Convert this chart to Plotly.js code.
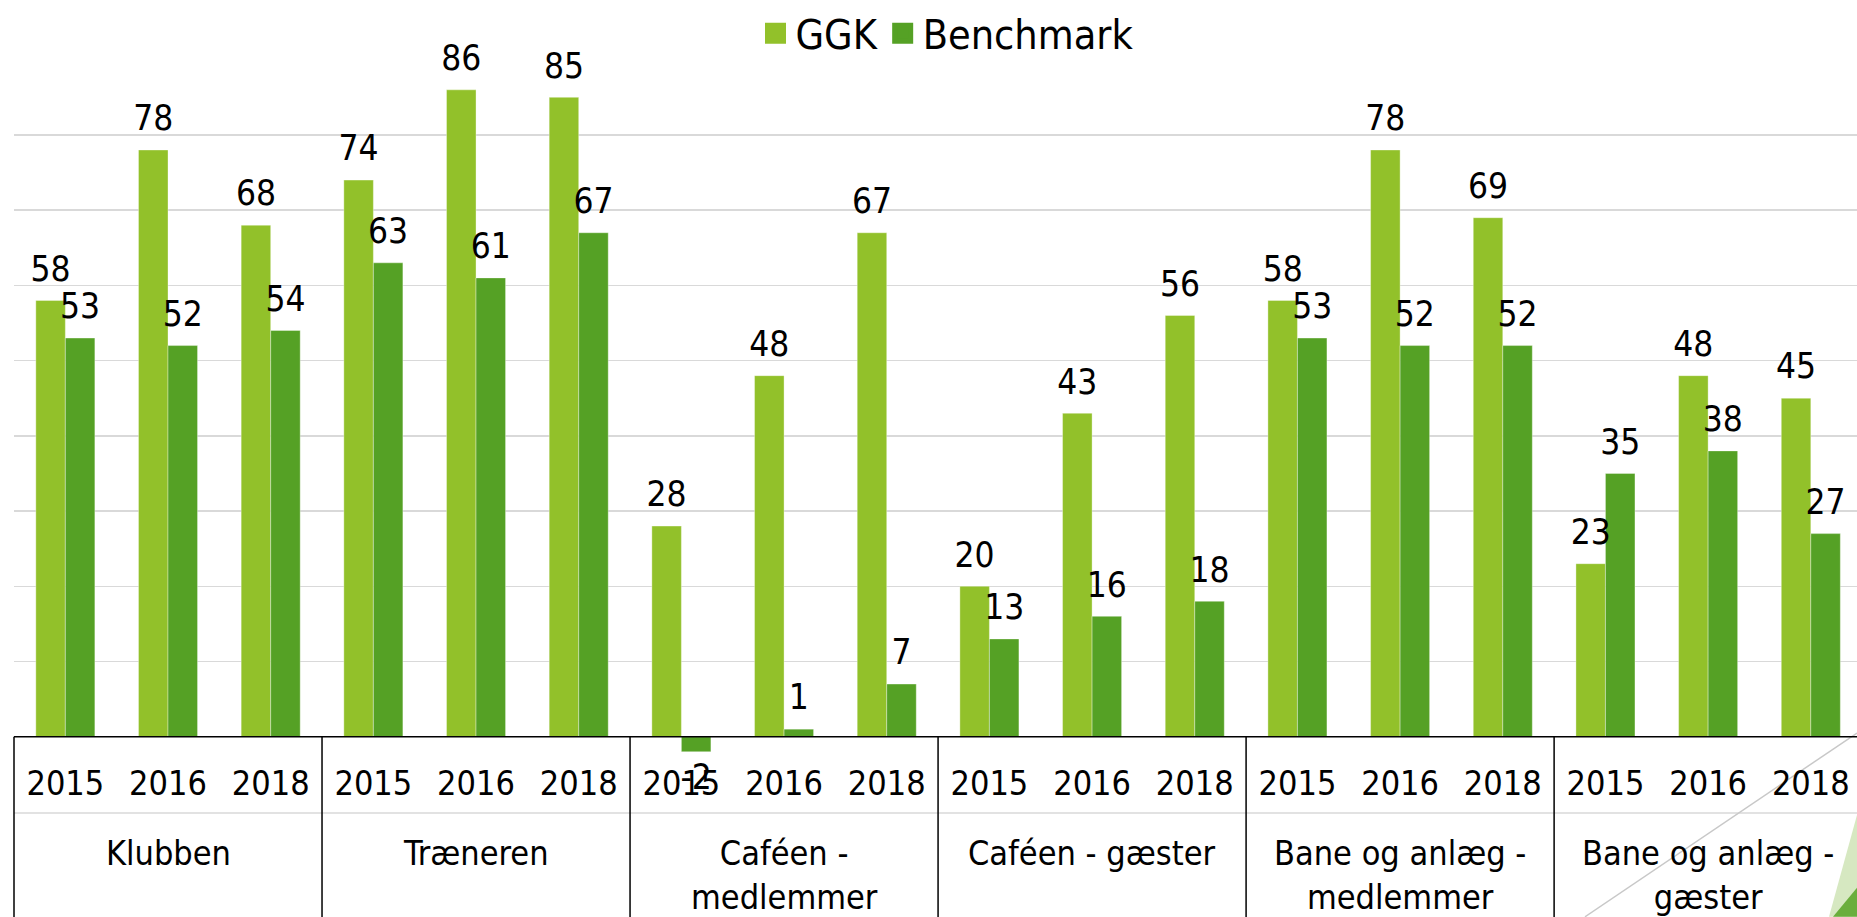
<!DOCTYPE html>
<html><head><meta charset="utf-8">
<script src="https://cdn.plot.ly/plotly-3.0.1.min.js"></script>
<style>html,body{margin:0;padding:0;background:#fff;overflow:hidden}#chart{width:1857px;height:917px}</style>
</head><body><div id="chart"></div>
<script>
// ---- data ----
const categories = ['Klubben', 'Træneren', 'Caféen -<br>medlemmer', 'Caféen - gæster', 'Bane og anlæg -<br>medlemmer', 'Bane og anlæg -<br>gæster'];
const years = ['2015', '2016', '2018'];
const ggk = [58, 78, 68, 74, 86, 85, 28, 48, 67, 20, 43, 56, 58, 78, 69, 23, 48, 45];
const benchmark = [53, 52, 54, 63, 61, 67, -2, 1, 7, 13, 16, 18, 53, 52, 52, 35, 38, 27];
const seriesNames = ['GGK', 'Benchmark'];
const seriesColors = ['#92c12a', '#55a125'];

// ---- build ----
const FONT = 'DejaVu Sans Condensed, DejaVu Sans, sans-serif';
const xIdx = [], xYear = [];
categories.forEach((c, ci) => years.forEach((y, yi) => { xIdx.push(ci * years.length + yi); xYear.push(y); }));
const series = [ggk, benchmark];

const W = 1857, H = 917, L = 14, T = 58, B = 163;
const plotH = H - T - B, plotW = W - L;
const XR = [-0.5, 17.45];
const YR = [-2.3, 90.1];
const px = v => (v - L) / plotW;          // pixel -> paper x
const py = v => (H - B - v) / plotH;      // pixel -> paper y
const zeroPaper = (0 - YR[0]) / (YR[1] - YR[0]);
const xPaper = v => (v - XR[0]) / (XR[1] - XR[0]);

const traces = [];
series.forEach((vals, i) => {
  traces.push({
    type: 'bar', name: seriesNames[i], x: xIdx, y: vals,
    marker: {color: seriesColors[i], line: {color: 'rgba(255,255,255,0.35)', width: 1}},
    cliponaxis: false, showlegend: false, hoverinfo: 'y+name'
  });
});
series.forEach((vals, i) => {
  traces.push({
    type: 'scatter', mode: 'markers+text', name: seriesNames[i] + ' labels', x: xIdx, y: vals,
    text: vals.map(String),
    textposition: vals.map(v => v < 0 ? 'bottom center' : 'top center'),
    textfont: {family: FONT, size: 35, color: '#000'},
    marker: {size: 16, opacity: 0, color: seriesColors[i]},
    showlegend: false, cliponaxis: false, hoverinfo: 'skip'
  });
});
// legend entries (larger square swatches)
series.forEach((vals, i) => {
  traces.push({
    type: 'scatter', mode: 'markers', name: seriesNames[i], x: [null], y: [null],
    xaxis: 'x2', yaxis: 'y2',
    marker: {symbol: 'square', size: 16, color: seriesColors[i], line: {color: seriesColors[i], width: 5}},
    showlegend: true, hoverinfo: 'skip'
  });
});

const shapes = [
  // row separator between years and categories
  {type: 'line', xref: 'paper', yref: 'paper', x0: 0, x1: px(W), y0: py(813), y1: py(813),
   line: {color: '#d9d9d9', width: 1.5}, layer: 'below'},
  // decorative slide elements
  {type: 'line', xref: 'paper', yref: 'paper', x0: px(1585), y0: py(917), x1: px(1857), y1: py(733),
   line: {color: '#c8c8c8', width: 1.5}, layer: 'below'},
  {type: 'path', xref: 'paper', yref: 'paper',
   path: `M ${px(1829)} ${py(917)} L ${px(1857)} ${py(815)} L ${px(1857)} ${py(917)} Z`,
   fillcolor: '#d6e8c1', line: {width: 0}, layer: 'below'},
  {type: 'path', xref: 'paper', yref: 'paper',
   path: `M ${px(1833)} ${py(917)} L ${px(1857)} ${py(888)} L ${px(1857)} ${py(917)} Z`,
   fillcolor: '#6aae3c', line: {width: 0}, layer: 'below'},
  // horizontal axis line at zero
  {type: 'line', xref: 'paper', yref: 'y', x0: 0, x1: px(W), y0: 0, y1: 0,
   line: {color: '#000', width: 1.5}, layer: 'above'}
];
// category dividers
for (let ci = 0; ci <= categories.length; ci++) {
  const b = ci * years.length - 0.5;
  if (b > XR[1]) continue;
  shapes.push({type: 'line', xref: 'paper', yref: 'paper', x0: xPaper(b), x1: xPaper(b),
    y0: zeroPaper, y1: py(H + 5), line: {color: '#000', width: 1.5}, layer: 'above'});
}

const annotations = categories.map((c, ci) => ({
  text: c, xref: 'x', yref: 'paper', x: ci * years.length + (years.length - 1) / 2, y: py(831),
  xanchor: 'center', yanchor: 'top', showarrow: false, align: 'center',
  font: {family: FONT, size: 34, color: '#000'}
}));

const layout = {
  width: W, height: H, autosize: false,
  margin: {l: L, r: 0, t: T, b: B, pad: 0},
  paper_bgcolor: '#fff', plot_bgcolor: 'rgba(0,0,0,0)',
  barmode: 'group', bargap: 0.425, bargroupgap: 0,
  scattermode: 'group', scattergap: 0.425,
  font: {family: FONT, color: '#000', size: 34},
  showlegend: true,
  legend: {orientation: 'h', x: px(947), xanchor: 'center', y: py(32), yanchor: 'middle',
           font: {family: FONT, size: 41, color: '#000'}, bgcolor: 'rgba(0,0,0,0)', itemwidth: 30},
  xaxis: {type: 'linear', range: XR, tickmode: 'array', tickvals: xIdx, ticktext: xYear,
          showline: false, ticks: '', ticklabelstandoff: 6,
          tickfont: {family: FONT, size: 34, color: '#000'},
          showgrid: false, zeroline: false, fixedrange: true},
  yaxis: {range: YR, tick0: 0, dtick: 10, showgrid: true, gridcolor: '#d9d9d9', gridwidth: 1.5,
          showticklabels: false, zeroline: false, showline: false, ticks: '', fixedrange: true},
  xaxis2: {overlaying: 'x', visible: false, range: [0, 1]},
  yaxis2: {overlaying: 'y', visible: false, range: [0, 1]},
  shapes: shapes,
  annotations: annotations
};

Plotly.newPlot('chart', traces, layout, {displayModeBar: false, staticPlot: true});
</script></body></html>
